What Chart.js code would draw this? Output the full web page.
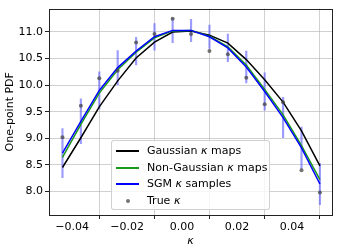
<!DOCTYPE html>
<html>
<head>
<meta charset="utf-8">
<script src="https://cdn.jsdelivr.net/npm/chart.js@4.4.0/dist/chart.umd.min.js"></script>
<style>
  html, body { margin: 0; padding: 0; background: #fff; }
  #wrap { position: relative; width: 338px; height: 252px; }
  #legend {
    position: absolute; left: 111px; top: 140px; width: 159px; height: 70px;
    box-sizing: border-box; border: 1px solid rgba(204,204,204,0.9); border-radius: 3px;
    background: rgba(255,255,255,0.8);
    font-family: 'DejaVu Sans', sans-serif; font-size: 11px; color: #000;
  }
  .row { position: absolute; left: 0; height: 14px; width: 100%; }
  .row .h { position: absolute; left: 4px; width: 23px; top: 6px; height: 1.5px; }
  .row .dot { position: absolute; left: 13.5px; top: 5px; width: 4px; height: 4px; border-radius: 50%; background: rgba(68,68,68,0.75); }
  .row .t { position: absolute; left: 35px; top: 0; line-height: 14px; white-space: nowrap; }
  i { font-style: italic; }
</style>
</head>
<body>
<div id="wrap">
  <canvas id="chart" width="338" height="252"></canvas>
  <div id="legend"></div>
</div>
<script>
// ============ DATA ============
const kappa = [-0.0435, -0.0368, -0.0301, -0.0234, -0.0167, -0.0100, -0.0034, 0.0033, 0.0100, 0.0167, 0.0234, 0.0301, 0.0368, 0.0435, 0.0502];
const gaussMaps    = [8.45, 9.01, 9.59, 10.08, 10.51, 10.81, 11.00, 11.02, 10.94, 10.79, 10.48, 10.10, 9.68, 9.14, 8.48];
const nonGaussMaps = [8.64, 9.26, 9.85, 10.29, 10.62, 10.89, 11.02, 11.03, 10.92, 10.72, 10.38, 9.92, 9.44, 8.86, 8.22];
const sgmSamples   = [8.72, 9.32, 9.90, 10.33, 10.64, 10.91, 11.03, 11.03, 10.91, 10.70, 10.34, 9.88, 9.39, 8.82, 8.14];
const sgmErr       = [0.46, 0.42, 0.35, 0.32, 0.26, 0.25, 0.23, 0.21, 0.22, 0.26, 0.30, 0.35, 0.38, 0.39, 0.39];
const trueKappa    = [9.02, 9.61, 10.13, 10.27, 10.80, 10.96, 11.25, 10.96, 10.64, 10.58, 10.14, 9.64, 9.68, 8.40, 7.98];
const xTicks = [-0.04, -0.02, 0.00, 0.02, 0.04];
const yTicks = [8.0, 8.5, 9.0, 9.5, 10.0, 10.5, 11.0];
const legendLabels = ['Gaussian <i>κ</i> maps', 'Non-Gaussian <i>κ</i> maps', 'SGM <i>κ</i> samples', 'True <i>κ</i>'];

const FONT = { family: "'DejaVu Sans', sans-serif", size: 11 };
const pts = ys => kappa.map((x, i) => ({ x, y: ys[i] }));
const minus = s => s.replace('-', '\u2212');

// ============ FRAME (top/right spines) ============
const frame = {
  id: 'frame',
  afterDatasetsDraw(chart) {
    const { ctx, chartArea: a } = chart;
    ctx.save();
    ctx.strokeStyle = '#222';
    ctx.lineWidth = 1;
    ctx.strokeRect(Math.round(a.left) + 0.5, Math.round(a.top) + 0.5, Math.round(a.right - a.left), Math.round(a.bottom - a.top));
    ctx.restore();
  }
};

// ============ CHART ============
new Chart(document.getElementById('chart'), {
  type: 'line',
  data: {
    datasets: [
      { type: 'bar', data: kappa.map((x, i) => ({ x, y: [sgmSamples[i] - sgmErr[i], sgmSamples[i] + sgmErr[i]] })),
        backgroundColor: 'rgba(90,90,255,0.6)', barThickness: 1.5, grouped: false, order: 5 },
      { data: pts(gaussMaps), borderColor: '#000', borderWidth: 1.5, pointRadius: 0, tension: 0, order: 3 },
      { data: pts(nonGaussMaps), borderColor: '#1a9a1a', borderWidth: 1.5, pointRadius: 0, tension: 0, order: 2 },
      { data: pts(sgmSamples), borderColor: '#0000ff', borderWidth: 1.5, pointRadius: 0, tension: 0, order: 1 },
      { data: pts(trueKappa), showLine: false, pointRadius: 2, pointBorderWidth: 0,
        pointBackgroundColor: 'rgba(68,68,68,0.75)', order: 0 }
    ]
  },
  options: {
    responsive: false,
    animation: false,
    layout: { padding: { left: 0, right: 6, top: 5, bottom: 0 } },
    plugins: { legend: { display: false }, tooltip: { enabled: false } },
    scales: {
      x: {
        type: 'linear', min: -0.0484, max: 0.0546, offset: false,
        afterBuildTicks: s => { s.ticks = xTicks.map(v => ({ value: v })); },
        afterFit: s => { s.height = 37; },
        ticks: { font: FONT, color: '#000', padding: 2, maxRotation: 0,
          callback: v => minus(v.toFixed(2)) },
        grid: { color: 'rgba(176,176,176,0.6)', tickColor: '#222', tickLength: 4, lineWidth: 1 },
        border: { display: false },
        title: { display: true, text: 'κ', font: { ...FONT, style: 'italic' }, color: '#000', padding: { top: 0, bottom: 4 } }
      },
      y: {
        min: 7.556, max: 11.44,
        afterBuildTicks: s => { s.ticks = yTicks.map(v => ({ value: v })); },
        afterFit: s => { s.width = 49; },
        ticks: { font: FONT, color: '#000', padding: 2, callback: v => v.toFixed(1) },
        grid: { color: 'rgba(176,176,176,0.6)', tickColor: '#222', tickLength: 4, lineWidth: 1 },
        border: { display: false },
        title: { display: true, text: 'One-point PDF', font: FONT, color: '#000', padding: { top: 4, bottom: 0 } }
      }
    }
  },
  plugins: [frame]
});

// ============ LEGEND ============
const handles = ['#000', '#1a9a1a', '#0000ff', null];
const tops = [3, 20, 36, 53];
document.getElementById('legend').innerHTML = legendLabels.map((lab, i) => `
  <div class="row" style="top:${tops[i]}px">
    ${handles[i] ? `<div class="h" style="background:${handles[i]}"></div>` : '<div class="dot"></div>'}
    <div class="t">${lab}</div>
  </div>`).join('');
</script>
</body>
</html>
